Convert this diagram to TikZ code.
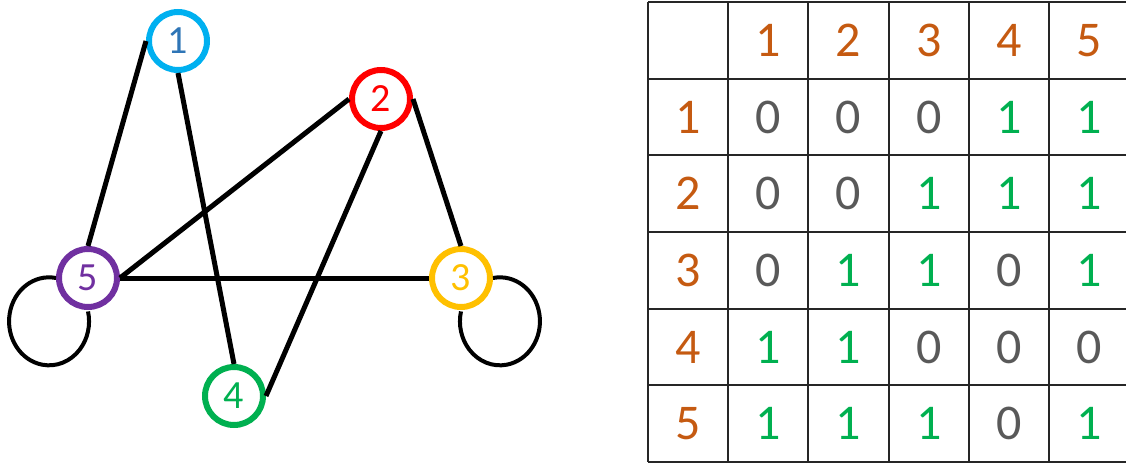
\documentclass[tikz,border=0pt]{standalone}
\usepackage{fontspec}
\setmainfont{Carlito}
\usetikzlibrary{calc}

\definecolor{vcyan}{HTML}{00B0F0}
\definecolor{vblue}{HTML}{2E75B6}
\definecolor{vred}{HTML}{FF0000}
\definecolor{vgold}{HTML}{FFC000}
\definecolor{vgreen}{HTML}{00B050}
\definecolor{vpurple}{HTML}{7030A0}
\definecolor{hdorange}{HTML}{C55A11}
\definecolor{zgray}{HTML}{595959}

\begin{document}
\begin{tikzpicture}[x=1pt,y=-1pt,
  vertex/.style={circle,draw,line width=6pt,minimum size=58pt,inner sep=0pt,
    font=\fontsize{40}{40}\selectfont},
  edge/.style={line width=5pt},
  selfloop/.style={line width=4pt},
  grid/.style={line width=2pt,black!85},
  head/.style={text=hdorange,font=\fontsize{50}{50}\selectfont},
  cell0/.style={text=zgray,font=\fontsize{50}{50}\selectfont},
  cell1/.style={text=vgreen,font=\fontsize{50}{50}\selectfont}]

% ---------- Parameter (Tabelle) ----------
\def\xT{648}
\def\yT{2}
\def\cw{80.2}
\def\rh{76.67}

\useasboundingbox (0,0) rectangle (1126,463);

% ===================
% links: Graph
% ===================
\node[vertex,draw=vcyan,text=vblue]     (n1) at (178,41)  {1};
\node[vertex,draw=vred,text=vred]       (n2) at (381,99)  {2};
\node[vertex,draw=vgold,text=vgold]     (n3) at (461,278) {3};
\node[vertex,draw=vgreen,text=vgreen]   (n4) at (234,396) {4};
\node[vertex,draw=vpurple,text=vpurple] (n5) at (88,278)  {5};

\draw[edge] (n1.west) -- (n5.north);
\draw[edge] (n1.south) -- (n4.north);
\draw[edge] (n2.west) -- (n5.east);
\draw[edge] (n2.south) -- (n4.east);
\draw[edge] (n2.east) -- (n3.north);
\draw[edge] (n5.east) -- (n3.west);

% Schleifen an 5 und 3 (Ellipsenbogen)
\draw[selfloop] (n5.west) arc[start angle=-80,end angle=-373,x radius=40,y radius=44];
\draw[selfloop] (n3.east) arc[start angle=-100,end angle=193,x radius=40,y radius=44];

% ===================
% rechts: Adjazenzmatrix
% ===================
\begin{scope}
  \clip (0,0) rectangle (1126,463);

  \foreach \r in {0,...,6}
    \draw[grid] (\xT,{\yT+\r*\rh}) -- ({\xT+6*\cw},{\yT+\r*\rh});
  \foreach \c in {0,...,5}
    \draw[grid] ({\xT+\c*\cw},\yT) -- ({\xT+\c*\cw},{\yT+6*\rh});
\end{scope}

\foreach \c in {1,...,5}
  \node[head] (h\c) at ({\xT+(\c+0.5)*\cw},{\yT+0.5*\rh}) {\c};
\foreach \r in {1,...,5}
  \node[head] (r\r) at ({\xT+0.5*\cw},{\yT+(\r+0.5)*\rh}) {\r};

\foreach \r/\vals in {1/{0,0,0,1,1},2/{0,0,1,1,1},3/{0,1,1,0,1},4/{1,1,0,0,0},5/{1,1,1,0,1}}
  \foreach \v [count=\c] in \vals
    \node[cell\v] (m\r\c) at ({\xT+(\c+0.5)*\cw},{\yT+(\r+0.5)*\rh}) {\v};

\end{tikzpicture}
\end{document}
